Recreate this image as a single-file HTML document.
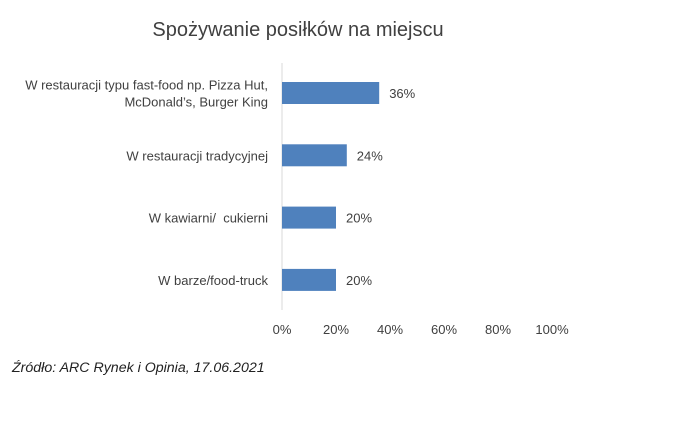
<!DOCTYPE html>
<html><head><meta charset="utf-8"><style>
body{margin:0;background:#fff;width:677px;height:437px;overflow:hidden;}
svg{display:block;font-family:"Liberation Sans",sans-serif;}
svg text{white-space:pre;}
</style></head><body>
<svg id="c" width="677" height="437">
<text x="298" y="36" text-anchor="middle" font-size="20" fill="#404040">Spożywanie posiłków na miejscu</text>
<line x1="282" y1="63" x2="282" y2="310" stroke="#d9d9d9" stroke-width="1"/>
<g id="bars"></g>
<text x="12" y="372" font-size="14.2" font-style="italic" fill="#222">Źródło: ARC Rynek i Opinia, 17.06.2021</text>
</svg>
<script>
const categories=[["W restauracji typu fast-food np. Pizza Hut,","McDonald’s, Burger King"],["W restauracji tradycyjnej"],["W kawiarni/  cukierni"],["W barze/food-truck"]];
const values=[36,24,20,20];
const ticks=[0,20,40,60,80,100];
const NS="http://www.w3.org/2000/svg";
const g=document.getElementById('bars');
const x=v=>282+v*2.7;
const yc=i=>93+i*62.3;
function mk(t,a){const e=document.createElementNS(NS,t);for(const k in a)e.setAttribute(k,a[k]);g.appendChild(e);return e;}
values.forEach((v,i)=>{
 const r=mk('rect',{x:x(0),y:yc(i)-11,width:x(v)-x(0),height:22,fill:'#4f81bd'});
 
 
 const l=mk('text',{x:x(v)+10,y:yc(i)+5,'font-size':13,fill:'#404040'});
 l.textContent=v+'%';
 
 
 const lines=categories[i];
 lines.forEach((s,j)=>{
  const t=mk('text',{x:268,y:yc(i)+5+(j-(lines.length-1)/2)*17,'font-size':13,fill:'#404040','text-anchor':'end'});
  t.textContent=s;
  
  
 });
});
ticks.forEach(tk=>{
 const t=mk('text',{x:x(tk),y:334,'font-size':13,fill:'#404040','text-anchor':'middle'});
 t.textContent=tk+'%';
 
 
});
</script>
</body></html>
